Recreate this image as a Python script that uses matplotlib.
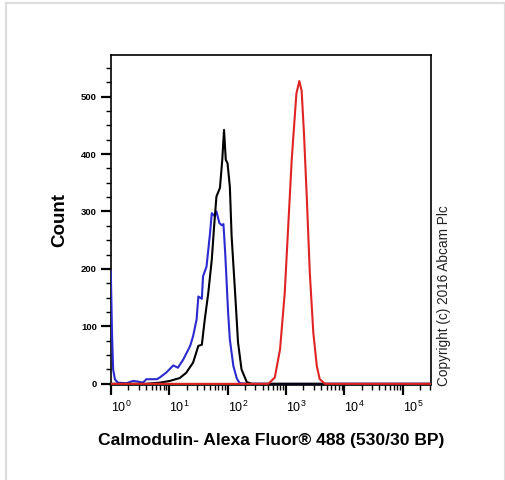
import numpy as np
import matplotlib
matplotlib.use("Agg")
import matplotlib.pyplot as plt
from matplotlib.lines import Line2D
from matplotlib.ticker import FixedLocator, LogLocator, NullFormatter, MultipleLocator

plt.rcParams.update({
    "font.family": "Liberation Sans",
    "mathtext.fontset": "custom",
    "mathtext.rm": "Liberation Sans",
    "mathtext.it": "Liberation Sans",
    "mathtext.bf": "Liberation Sans:bold",
})

# histograms: x in decades (log10 of intensity), y = count
blue_dec = [0.0, 0.02, 0.04, 0.07, 0.12, 0.27, 0.38, 0.46, 0.55, 0.61, 0.79, 0.84,
            0.955, 1.07, 1.15, 1.24, 1.36, 1.41, 1.47, 1.50, 1.56, 1.58, 1.64, 1.67,
            1.70, 1.73, 1.78, 1.81, 1.86, 1.90, 1.93, 1.96, 1.98, 2.01, 2.04, 2.10,
            2.16, 2.21, 2.4, 5.48]
blue_cnt = [195, 90, 25, 8, 2, 1, 5, 4, 2, 8, 8, 11,
            20, 32, 28, 42, 66, 83, 112, 152, 148, 187, 204, 233,
            262, 297, 292, 300, 280, 276, 278, 228, 187, 124, 77, 31,
            9, 1, 0, 0]

black_dec = [0.0, 0.6, 0.84, 1.01, 1.18, 1.29, 1.41, 1.50, 1.56, 1.61, 1.67, 1.73,
             1.77, 1.81, 1.87, 1.91, 1.94, 1.97, 2.00, 2.04, 2.07, 2.13, 2.18,
             2.24, 2.33, 2.42, 5.48]
black_cnt = [0, 0, 2, 5, 10, 19, 37, 66, 68, 112, 158, 216,
             274, 326, 341, 390, 442, 390, 384, 343, 257, 158, 72,
             25, 3, 0, 0]

red_dec = [0.0, 2.70, 2.81, 2.90, 2.98, 3.04, 3.10, 3.14, 3.18, 3.23, 3.27,
           3.31, 3.36, 3.41, 3.47, 3.53, 3.58, 3.67, 5.48]
red_cnt = [0, 0, 11, 60, 158, 274, 390, 448, 505, 527, 510,
           436, 320, 193, 89, 31, 8, 0, 0]

x_ticks = [1, 10, 100, 1000, 10000, 100000]
x_ticklabels = [r"$10^{0}$", r"$10^{1}$", r"$10^{2}$", r"$10^{3}$", r"$10^{4}$", r"$10^{5}$"]
y_ticks = [0, 100, 200, 300, 400, 500]

fig = plt.figure(figsize=(5.06, 4.80), dpi=100)
ax = fig.add_axes([0.219, 0.198, 0.632, 0.687])

ax.plot(10 ** np.array(blue_dec), blue_cnt, color="#2a2ad0", lw=1.5, zorder=3)
ax.plot(10 ** np.array(black_dec), black_cnt, color="black", lw=1.5, zorder=4)
ax.plot(10 ** np.array(red_dec), red_cnt, color="#e02424", lw=1.5, zorder=5)

ax.set_xscale("log")
ax.set_xlim(1, 10 ** 5.48)
ax.set_ylim(-2, 572)

ax.xaxis.set_major_locator(FixedLocator(x_ticks))
ax.xaxis.set_minor_locator(LogLocator(base=10, subs=np.arange(2, 10)))
ax.xaxis.set_minor_formatter(NullFormatter())
ax.set_xticklabels(x_ticklabels, fontsize=9)
ax.yaxis.set_major_locator(FixedLocator(y_ticks))
ax.yaxis.set_minor_locator(MultipleLocator(25))
ax.set_yticklabels([str(v) for v in y_ticks], fontsize=6.8, fontweight="bold")

ax.tick_params(axis="both", which="major", direction="out", length=7, width=1.6, color="black")
ax.tick_params(axis="both", which="minor", direction="out", length=3.5, width=1.0, color="black")
ax.tick_params(axis="x", which="major", pad=4)
ax.tick_params(axis="y", which="major", pad=3)
for lab in ax.get_xticklabels():
    lab.set_horizontalalignment("left")

for s in ax.spines.values():
    s.set_linewidth(1.2)

ax.set_ylabel("Count", fontsize=13.5, fontweight="bold", labelpad=9)
ax.set_xlabel("Calmodulin- Alexa Fluor\u00ae 488 (530/30 BP)", fontsize=12.6,
              fontweight="bold", labelpad=13)

fig.text(0.877, 0.384, "Copyright (c) 2016 Abcam Plc", rotation=90, fontsize=9.8,
         ha="center", va="center", color="#222222")

# light grey outer frame
gc = "#dddddd"
fig.add_artist(Line2D([6 / 506, 6 / 506], [0, 1 - 3 / 480], color=gc, lw=1.6,
                      transform=fig.transFigure))
fig.add_artist(Line2D([6 / 506, 505 / 506], [1 - 3 / 480, 1 - 3 / 480], color=gc, lw=1.6,
                      transform=fig.transFigure))
fig.add_artist(Line2D([505 / 506, 505 / 506], [0, 1 - 3 / 480], color=gc, lw=1.6,
                      transform=fig.transFigure))

fig.savefig("out.png", dpi=100)
